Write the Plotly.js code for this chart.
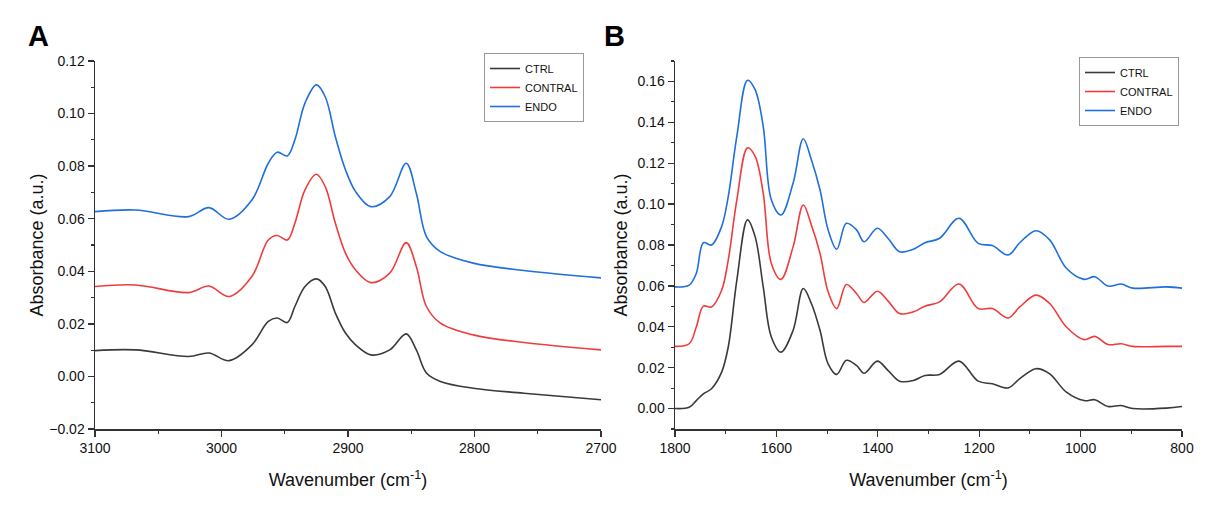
<!DOCTYPE html>
<html>
<head>
<meta charset="utf-8">
<script src="https://cdn.plot.ly/plotly-3.0.1.min.js"></script>
<style>html,body{margin:0;padding:0;background:#fff;}#chart{width:1207px;height:522px;}</style>
</head>
<body>
<div id="chart"></div>
<script>
// Panel A: 3100-2700 cm-1
const wnA = [3100, 3068, 3026, 3010, 2994, 2976, 2963, 2956, 2948, 2942, 2934, 2925, 2918, 2910, 2902, 2894, 2882, 2867, 2854, 2846, 2838, 2827, 2801, 2761, 2700];
const ctrlA = [0.0098, 0.0101, 0.0076, 0.0089, 0.006, 0.012, 0.0209, 0.0222, 0.0205, 0.0266, 0.0342, 0.0371, 0.0342, 0.0241, 0.0165, 0.012, 0.0082, 0.0101, 0.0162, 0.0101, 0.0013, -0.0019, -0.0045, -0.0064, -0.0089];
const contralA = [0.0342, 0.0348, 0.0319, 0.0344, 0.0304, 0.038, 0.0519, 0.0536, 0.0519, 0.0583, 0.071, 0.0769, 0.0722, 0.0583, 0.0469, 0.0405, 0.0357, 0.0393, 0.0509, 0.0418, 0.0266, 0.0203, 0.0158, 0.0129, 0.0101];
const endoA = [0.0627, 0.0633, 0.0608, 0.0642, 0.0598, 0.0671, 0.0811, 0.0853, 0.0839, 0.090, 0.104, 0.1109, 0.1064, 0.0912, 0.0786, 0.0703, 0.0646, 0.0684, 0.0811, 0.0697, 0.0532, 0.0475, 0.0431, 0.0403, 0.0375];

// Panel B: 1800-800 cm-1
const wnB = [1800, 1772, 1758, 1744, 1728, 1708, 1695, 1678, 1657, 1642, 1626, 1610, 1591, 1567, 1547, 1531, 1514, 1498, 1481, 1462, 1442, 1427, 1401, 1380, 1357, 1330, 1307, 1278, 1240, 1202, 1174, 1143, 1120, 1088, 1061, 1028, 993, 972, 946, 920, 897, 831, 800];
const ctrlB = [0.0, 0.0006, 0.0039, 0.0072, 0.0097, 0.0178, 0.0301, 0.0628, 0.0923, 0.0841, 0.0595, 0.035, 0.0276, 0.0383, 0.0587, 0.0514, 0.0383, 0.0219, 0.0167, 0.0236, 0.0211, 0.0173, 0.0232, 0.0187, 0.0134, 0.0137, 0.0162, 0.0167, 0.0232, 0.0134, 0.0121, 0.0101, 0.0146, 0.0195, 0.017, 0.008, 0.0039, 0.0043, 0.001, 0.0015, 0.0, 0.0002, 0.001];
const contralB = [0.0304, 0.0317, 0.0399, 0.0501, 0.0497, 0.0579, 0.0726, 0.1021, 0.1275, 0.1234, 0.1054, 0.071, 0.0632, 0.0792, 0.0996, 0.0898, 0.0759, 0.0571, 0.0489, 0.0607, 0.0563, 0.0519, 0.0574, 0.0527, 0.0465, 0.0473, 0.0501, 0.0522, 0.0609, 0.0489, 0.0489, 0.0443, 0.0497, 0.0555, 0.0514, 0.0399, 0.0337, 0.0353, 0.0313, 0.0317, 0.0304, 0.0304, 0.0304];
const endoB = [0.0595, 0.0604, 0.0661, 0.0811, 0.080, 0.089, 0.1037, 0.1332, 0.1606, 0.156, 0.138, 0.1021, 0.0947, 0.1103, 0.132, 0.1217, 0.107, 0.0874, 0.0779, 0.0906, 0.0874, 0.0816, 0.0882, 0.0833, 0.0767, 0.0779, 0.0811, 0.0833, 0.0931, 0.0808, 0.0797, 0.0751, 0.0811, 0.087, 0.0825, 0.0686, 0.0632, 0.0645, 0.0599, 0.0609, 0.0589, 0.0595, 0.0589];

const seriesNames = ["CTRL", "CONTRAL", "ENDO"];
const colors = ["#3a3a3a", "#f03c3c", "#1f6fdc"];

function mk(x, y, i, xa, ya, leg) {
  return {x: x, y: y, type: "scatter", mode: "lines", name: seriesNames[i],
    line: {color: colors[i], width: 1.6, shape: "spline", smoothing: 1},
    xaxis: xa, yaxis: ya, legend: leg, hoverinfo: "skip"};
}

const data = [
  mk(wnA, ctrlA, 0, "x", "y", "legend"),
  mk(wnA, contralA, 1, "x", "y", "legend"),
  mk(wnA, endoA, 2, "x", "y", "legend"),
  mk(wnB, ctrlB, 0, "x2", "y2", "legend2"),
  mk(wnB, contralB, 1, "x2", "y2", "legend2"),
  mk(wnB, endoB, 2, "x2", "y2", "legend2")
];

const FONT = "Liberation Sans, Arial, sans-serif";
const axisCommon = {
  showline: true, linecolor: "#333", linewidth: 1.5, mirror: false,
  showgrid: false, zeroline: false,
  ticks: "outside", ticklen: 6, tickwidth: 1.3, tickcolor: "#333",
  tickfont: {family: FONT, size: 14, color: "#111"},
  minor: {ticks: "outside", ticklen: 3, tickwidth: 1.1, tickcolor: "#333", showgrid: false}
};
const xTitle = {text: "Wavenumber (cm<sup>-1</sup>)", font: {family: FONT, size: 18, color: "#111"}, standoff: 18};
const yTitleA = {text: "Absorbance (a.u.)", font: {family: FONT, size: 18, color: "#111"}, standoff: 1};
const yTitleB = {text: "Absorbance (a.u.)", font: {family: FONT, size: 18, color: "#111"}, standoff: 5};

const yb = (522 - 429) / 522, yt = (522 - 61) / 522;
const legendStyle = {xanchor: "left", yanchor: "top", bgcolor: "rgba(255,255,255,0)",
  bordercolor: "#999", borderwidth: 1, font: {family: FONT, size: 11, color: "#111"}, tracegroupgap: 0, itemwidth: 30};

const layout = {
  width: 1207, height: 522,
  margin: {l: 0, r: 0, t: 0, b: 0},
  paper_bgcolor: "#fff", plot_bgcolor: "#fff",
  font: {family: FONT},
  xaxis: Object.assign({}, axisCommon, {domain: [95/1207, 601/1207], range: [3100, 2700], tickmode: "linear", tick0: 2700, dtick: 100,
    minor: Object.assign({}, axisCommon.minor, {dtick: 50}), anchor: "y", title: xTitle}),
  yaxis: Object.assign({}, axisCommon, {domain: [yb, yt], range: [-0.02, 0.12], tickmode: "linear", tick0: 0, dtick: 0.02, tickformat: ".2f",
    minor: Object.assign({}, axisCommon.minor, {dtick: 0.01}), anchor: "x", title: yTitleA}),
  xaxis2: Object.assign({}, axisCommon, {domain: [675/1207, 1182/1207], range: [1800, 800], tickmode: "linear", tick0: 800, dtick: 200,
    minor: Object.assign({}, axisCommon.minor, {dtick: 100}), anchor: "y2", title: xTitle}),
  yaxis2: Object.assign({}, axisCommon, {domain: [yb, yt], range: [-0.01, 0.17], tickmode: "linear", tick0: 0, dtick: 0.02, tickformat: ".2f",
    minor: Object.assign({}, axisCommon.minor, {dtick: 0.01}), anchor: "x2", title: yTitleB}),
  legend: Object.assign({}, legendStyle, {x: 484/1207, y: (522-53)/522}),
  legend2: Object.assign({}, legendStyle, {x: 1079/1207, y: (522-57)/522}),
  showlegend: true,
  annotations: [
    {text: "<b>A</b>", x: 26/1207, y: (522-18)/522, xref: "paper", yref: "paper", xanchor: "left", yanchor: "top", showarrow: false,
      font: {family: FONT, size: 29, color: "#000"}},
    {text: "<b>B</b>", x: 602/1207, y: (522-18)/522, xref: "paper", yref: "paper", xanchor: "left", yanchor: "top", showarrow: false,
      font: {family: FONT, size: 29, color: "#000"}}
  ]
};

Plotly.newPlot("chart", data, layout, {staticPlot: true, displayModeBar: false});
</script>
</body>
</html>
